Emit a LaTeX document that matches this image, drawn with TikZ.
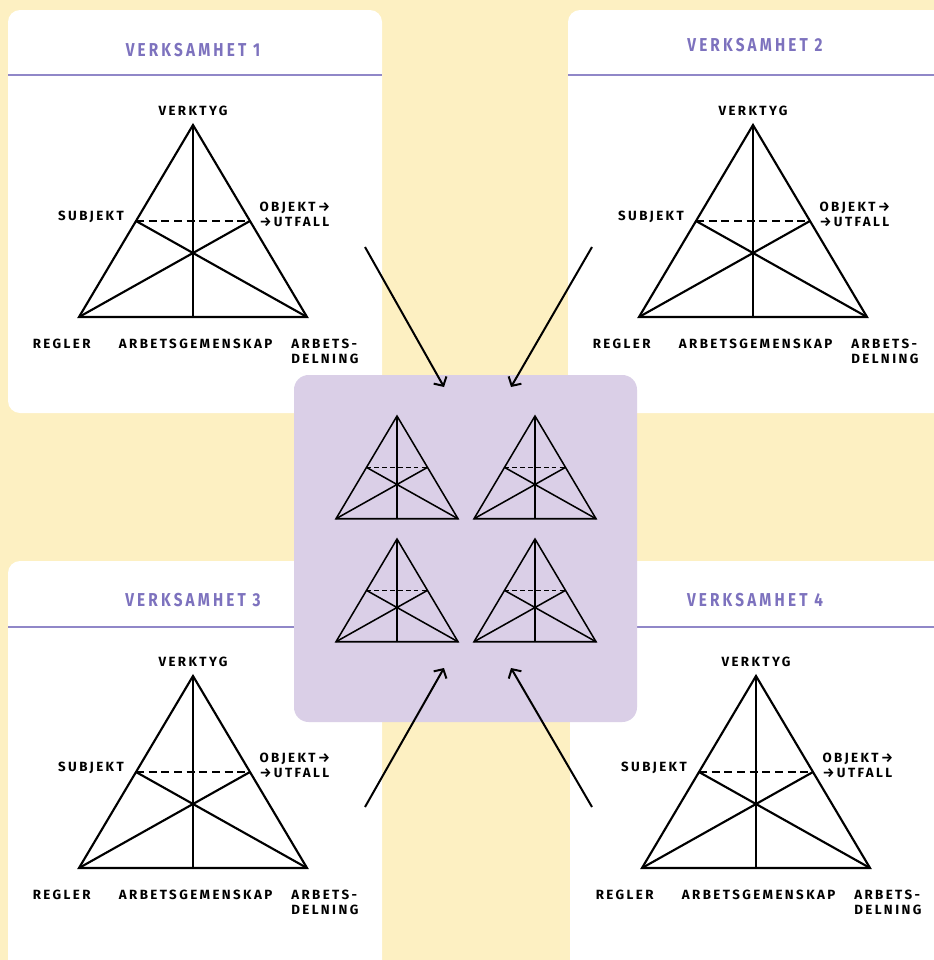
\documentclass[tikz,border=0pt]{standalone}
\usepackage{fontspec}
\usepackage{tikz}
\usetikzlibrary{arrows.meta, positioning}
\newfontfamily\lblfont[LetterSpace=18]{Fira Sans}
\newfontfamily\ttlfont[LetterSpace=17,FakeStretch=0.82]{Fira Sans}
\definecolor{sunyellow}{RGB}{253, 240, 194}
\definecolor{hublilac}{RGB}{218, 207, 231}
\definecolor{titleviolet}{RGB}{125, 114, 190}
\tikzset{
    card/.style={fill=white, rounded corners=9pt},
    cardrule/.style={draw=titleviolet!85, line width=0.9pt},
    cardtitle/.style={font=\ttlfont\bfseries\fontsize{14}{14}\selectfont, text=titleviolet, inner sep=0pt},
    tri/.style={line width=1.6pt, line join=miter},
    tridash/.style={line width=1.4pt, dash pattern=on 6pt off 3.5pt},
    lbl/.style={font=\lblfont\bfseries\fontsize{10}{11.25}\selectfont, inner sep=0pt},
    flow/.style={-{Straight Barb[length=5pt, width=11pt]}, line width=1.5pt}
}
% triangle with its three medians, #1 = prefix, #2 = apex, #3 = scale
\newcommand{\medtri}[3]{%
    \begin{scope}[shift={#2}, scale=#3]
        \coordinate (#1top) at (0,0);
        \coordinate (#1bl) at (-114,192);
        \coordinate (#1br) at (114,192);
        \coordinate (#1bm) at (0,192);
        \coordinate (#1ml) at (-57,96);
        \coordinate (#1mr) at (57,96);
        \draw[tri] (#1top) -- (#1bl) -- (#1br) -- cycle;
        \draw[tri] (#1top) -- (#1bm);
        \draw[tri] (#1bl) -- (#1mr) (#1br) -- (#1ml);
        \draw[tridash] (#1ml) -- (#1mr);
    \end{scope}}
% the labels round a big triangle
\newcommand{\actlabels}[1]{%
    \node[lbl, above=7pt of #1top] (#1verk) {VERKTYG};
    \node[lbl, left=9pt of #1ml, yshift=3pt] (#1subj) {SUBJEKT};
    \node[lbl, right=7pt of #1mr, yshift=5pt, align=left] (#1obj) {OBJEKT→\\→UTFALL};
    \node[lbl, below=16pt of #1bl, xshift=-13pt] (#1regl) {REGLER};
    \node[lbl, below=16pt of #1bm, xshift=2pt] (#1gem) {ARBETSGEMENSKAP};
    \node[lbl, below right=16pt and -12pt of #1br, align=left] (#1deln) {ARBETS-\\DELNING};
}

\begin{document}
\begin{tikzpicture}[x=0.75pt, y=-0.75pt]
    \clip (0,0) rectangle (934,960);
    \fill[sunyellow] (0,0) rectangle (934,960);

    % cards
    \fill[card] (8,10) rectangle (382,413);
    \fill[card] (568,10) rectangle (960,413);
    \fill[card] (8,561) rectangle (382,990);
    \fill[card] (570,561) rectangle (960,990);
    \draw[cardrule] (8,75) -- (382,75);
    \draw[cardrule] (568,75) -- (934,75);
    \draw[cardrule] (8,627) -- (382,627);
    \draw[cardrule] (570,627) -- (934,627);

    \node[cardtitle] (title1) at (193,50) {VERKSAMHET 1};
    \node[cardtitle] (title2) at (755,45) {VERKSAMHET 2};
    \node[cardtitle] (title3) at (193,600) {VERKSAMHET 3};
    \node[cardtitle] (title4) at (755,600) {VERKSAMHET 4};

    \medtri{a}{(193,125)}{1}  \actlabels{a}
    \medtri{b}{(753,125)}{1}  \actlabels{b}
    \medtri{c}{(193,676)}{1}  \actlabels{c}
    \medtri{d}{(756,676)}{1}  \actlabels{d}

    % shared box
    \fill[hublilac, rounded corners=11pt] (294,375) rectangle (637,722);
    \begin{scope}[tri/.style={line width=1.15pt, line join=miter},
                  tridash/.style={line width=1.05pt, dash pattern=on 3.5pt off 2.4pt}]
        \medtri{s1}{(397,416)}{0.535}
        \medtri{s2}{(535,416)}{0.535}
        \medtri{s3}{(397,539)}{0.535}
        \medtri{s4}{(535,539)}{0.535}
    \end{scope}

    \coordinate (from1) at (365,247);
    \coordinate (from2) at (592,247);
    \coordinate (from3) at (365,807);
    \coordinate (from4) at (592,807);
    \coordinate (into1) at (444,387);
    \coordinate (into2) at (511,387);
    \coordinate (into3) at (444,668);
    \coordinate (into4) at (511,668);
    \draw[flow] (from1) -- (into1);
    \draw[flow] (from2) -- (into2);
    \draw[flow] (from3) -- (into3);
    \draw[flow] (from4) -- (into4);
\end{tikzpicture}
\end{document}
